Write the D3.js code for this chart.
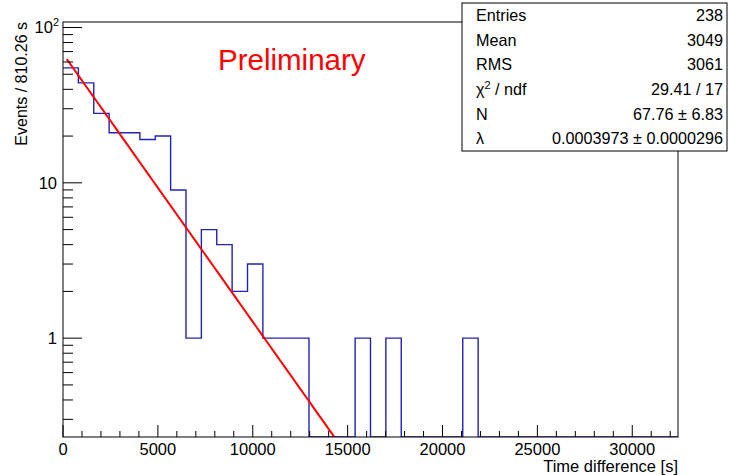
<!DOCTYPE html>
<html>
<head>
<meta charset="utf-8">
<script src="https://cdn.jsdelivr.net/npm/d3@7"></script>
<style>
  html, body { margin: 0; padding: 0; background: #fff; }
  svg { display: block; font-family: "Liberation Sans", Arial, Helvetica, sans-serif; }
</style>
</head>
<body>
<svg id="chart" width="729" height="475"></svg>
<script>
// ---- Data ----
const binWidth = 810.26;
const counts = [55, 44, 28, 21, 21, 19, 20, 9, 1, 5, 4, 2, 3, 1, 1, 1, 0, 0, 0, 1,
                0, 1, 0, 0, 0, 0, 1, 0, 0, 0, 0, 0, 0, 0, 0, 0, 0, 0, 0, 0];
const xMajorTicks = [0, 5000, 10000, 15000, 20000, 25000, 30000];
const yMajorTicks = [1, 10, 100];
const statLabels = ["Entries", "Mean", "RMS", "χ2 / ndf", "N", "λ"];
const statValues = ["238", "3049", "3061", "29.41 / 17", "67.76 ± 6.83", "0.0003973 ± 0.0000296"];
const fitN = 67.76;
const fitLambda = 0.0003973;
const fitRange = [200, 32410];

// ---- Layout ----
const svg = d3.select("#chart");
const L = 63, R = 678, T = 22, B = 437;
const xMax = binWidth * counts.length;
const x = d3.scaleLinear().domain([0, xMax]).range([L, R]);
const y = d3.scaleLog().domain([0.231, 108.5]).range([B, T]);

svg.append("defs").append("clipPath").attr("id", "frameClip")
  .append("rect").attr("x", L).attr("y", T).attr("width", R - L).attr("height", B - T);

// ---- Histogram outline ----
const pts = [];
counts.forEach((c, i) => {
  const lo = i * binWidth, hi = (i + 1) * binWidth;
  pts.push([lo, c > 0 ? c : null]);
  pts.push([hi, c > 0 ? c : null]);
});
const histLine = d3.line()
  .x(d => x(d[0]))
  .y(d => d[1] === null ? B : y(d[1]));
svg.append("path")
  .attr("d", histLine(pts))
  .attr("fill", "none")
  .attr("stroke", "#2323b4")
  .attr("stroke-width", 1.4)
  .attr("clip-path", "url(#frameClip)");

// ---- Fit function ----
const nPts = 100;
const fitPts = d3.range(nPts + 1).map(k => {
  const t = fitRange[0] + (fitRange[1] - fitRange[0]) * k / nPts;
  return [t, fitN * Math.exp(-fitLambda * t)];
});
svg.append("path")
  .attr("d", d3.line().x(d => x(d[0])).y(d => y(d[1]))(fitPts))
  .attr("fill", "none")
  .attr("stroke", "#ff0000")
  .attr("stroke-width", 2)
  .attr("clip-path", "url(#frameClip)");

// ---- Frame ----
svg.append("rect")
  .attr("x", L).attr("y", T).attr("width", R - L).attr("height", B - T)
  .attr("fill", "none").attr("stroke", "#000").attr("stroke-width", 1);

// ---- X axis ticks ----
const xMinor = d3.range(0, 32001, 1000).filter(v => v % 5000 !== 0);
const gx = svg.append("g").attr("stroke", "#000").attr("stroke-width", 1);
xMajorTicks.forEach(v => {
  gx.append("line").attr("x1", x(v)).attr("x2", x(v)).attr("y1", B).attr("y2", B - 12);
});
xMinor.forEach(v => {
  gx.append("line").attr("x1", x(v)).attr("x2", x(v)).attr("y1", B).attr("y2", B - 6);
});
svg.append("g").selectAll("text").data(xMajorTicks).join("text")
  .attr("x", d => x(d)).attr("y", 455)
  .attr("text-anchor", "middle").attr("font-size", 16.5).attr("fill", "#000")
  .text(d => d);

svg.append("text")
  .attr("x", R).attr("y", 471.5).attr("text-anchor", "end")
  .attr("font-size", 16.5).attr("fill", "#000")
  .text("Time difference [s]");

// ---- Y axis ticks ----
const gy = svg.append("g").attr("stroke", "#000").attr("stroke-width", 1);
yMajorTicks.forEach(v => {
  gy.append("line").attr("x1", L).attr("x2", L + 19).attr("y1", y(v)).attr("y2", y(v));
});
const yMinor = [];
[0.1, 1, 10].forEach(dec => {
  for (let m = 2; m <= 9; m++) {
    const v = dec * m;
    if (v >= y.domain()[0] && v <= y.domain()[1]) yMinor.push(v);
  }
});
yMinor.forEach(v => {
  gy.append("line").attr("x1", L).attr("x2", L + 10).attr("y1", y(v)).attr("y2", y(v));
});
// Labels
svg.append("text").attr("x", 57).attr("y", y(1)).attr("dy", "0.36em")
  .attr("text-anchor", "end").attr("font-size", 16.5).text("1");
svg.append("text").attr("x", 57).attr("y", y(10)).attr("dy", "0.36em")
  .attr("text-anchor", "end").attr("font-size", 16.5).text("10");
const t100 = svg.append("text").attr("x", 59).attr("y", y(100) + 5)
  .attr("text-anchor", "end").attr("font-size", 16.5);
t100.append("tspan").text("10");
t100.append("tspan").attr("font-size", 11).attr("dy", -7).text("2");

svg.append("text")
  .attr("transform", `translate(27,${T}) rotate(-90)`)
  .attr("text-anchor", "end").attr("font-size", 16)
  .text("Events / 810.26 s");

// ---- Preliminary ----
svg.append("text").attr("x", 218).attr("y", 69.5)
  .attr("font-size", 29.5).attr("fill", "#ff0000").text("Preliminary");

// ---- Stats box ----
const bx = 462, by = 3, bw = 265, bh = 148;
svg.append("rect").attr("x", bx).attr("y", by).attr("width", bw).attr("height", bh)
  .attr("fill", "#fff").attr("stroke", "#000").attr("stroke-width", 1);
const rowH = bh / statLabels.length;
statLabels.forEach((lab, i) => {
  const cy = by + rowH * (i + 0.5);
  const tl = svg.append("text").attr("x", 476).attr("y", cy).attr("dy", "0.36em")
    .attr("font-size", 16.2).attr("fill", "#000");
  if (lab.startsWith("χ2")) {
    tl.append("tspan").text("χ");
    tl.append("tspan").attr("font-size", 11).attr("dy", -6).text("2");
    tl.append("tspan").attr("dy", 6).text(" / ndf");
  } else {
    tl.text(lab);
  }
  svg.append("text").attr("x", 723).attr("y", cy).attr("dy", "0.36em")
    .attr("text-anchor", "end").attr("font-size", 16.2).attr("fill", "#000")
    .text(statValues[i]);
});
</script>
</body>
</html>
